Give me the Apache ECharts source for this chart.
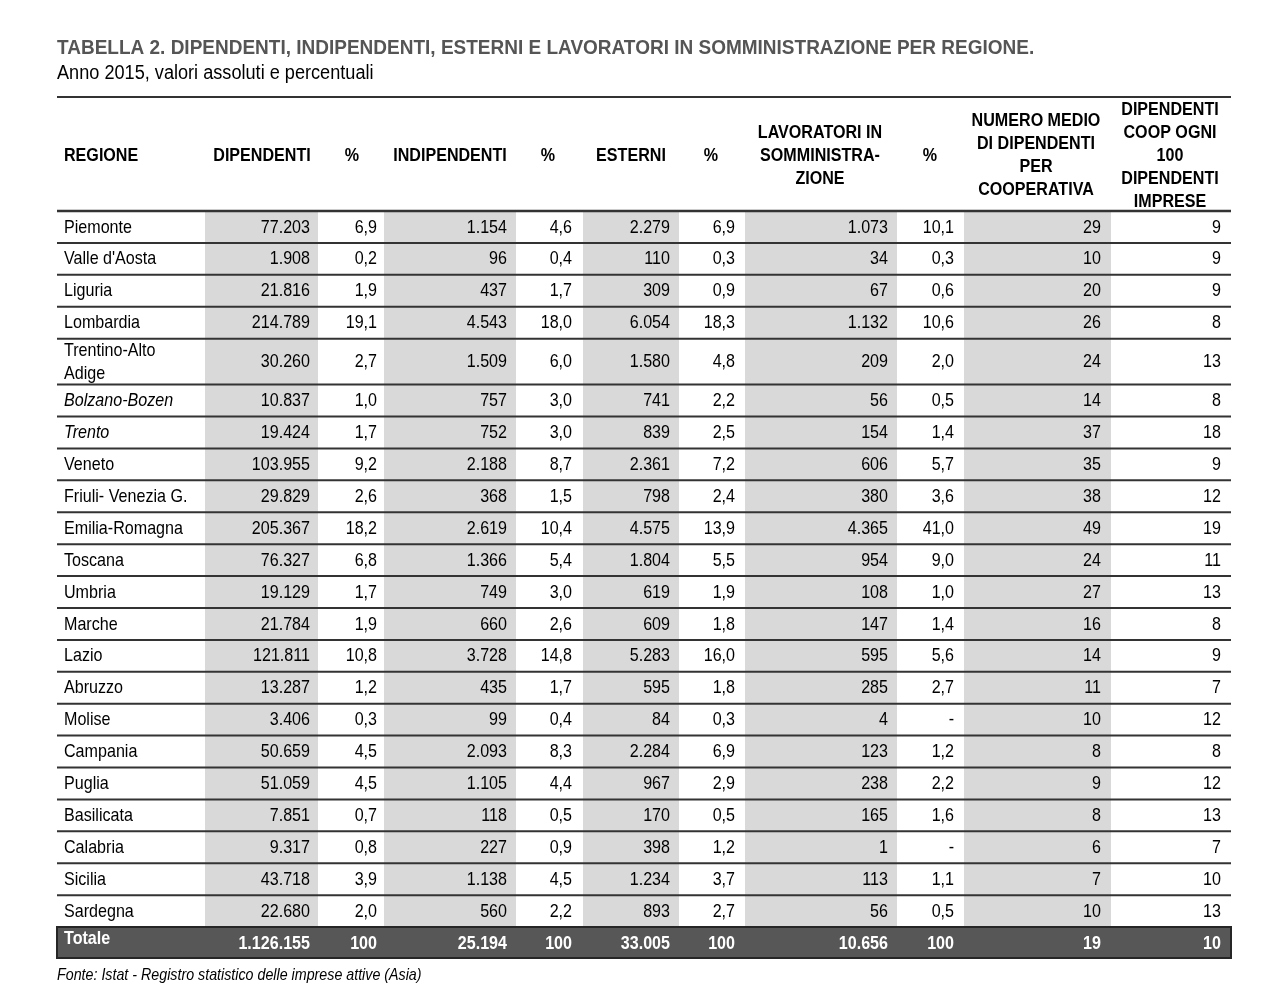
<!DOCTYPE html>
<html>
<head>
<meta charset="utf-8">
<script src="https://cdn.jsdelivr.net/npm/echarts@6/dist/echarts.min.js"></script>
<style>
  html, body { margin: 0; background: #fff; }
  #tabella { width: 1280px; height: 1005px; }
</style>
</head>
<body>
<div id="tabella"></div>
<script>
// dati tabella 2 - anno 2015
var regioni = ['Piemonte', "Valle d'Aosta", 'Liguria', 'Lombardia', 'Trentino-Alto\nAdige', 'Bolzano-Bozen', 'Trento',
  'Veneto', 'Friuli- Venezia G.', 'Emilia-Romagna', 'Toscana', 'Umbria', 'Marche', 'Lazio', 'Abruzzo', 'Molise',
  'Campania', 'Puglia', 'Basilicata', 'Calabria', 'Sicilia', 'Sardegna'];
var dipendenti = [77203, 1908, 21816, 214789, 30260, 10837, 19424, 103955, 29829, 205367, 76327, 19129, 21784, 121811, 13287, 3406, 50659, 51059, 7851, 9317, 43718, 22680];
var dipendentiPct = [6.9, 0.2, 1.9, 19.1, 2.7, 1.0, 1.7, 9.2, 2.6, 18.2, 6.8, 1.7, 1.9, 10.8, 1.2, 0.3, 4.5, 4.5, 0.7, 0.8, 3.9, 2.0];
var indipendenti = [1154, 96, 437, 4543, 1509, 757, 752, 2188, 368, 2619, 1366, 749, 660, 3728, 435, 99, 2093, 1105, 118, 227, 1138, 560];
var indipendentiPct = [4.6, 0.4, 1.7, 18.0, 6.0, 3.0, 3.0, 8.7, 1.5, 10.4, 5.4, 3.0, 2.6, 14.8, 1.7, 0.4, 8.3, 4.4, 0.5, 0.9, 4.5, 2.2];
var esterni = [2279, 110, 309, 6054, 1580, 741, 839, 2361, 798, 4575, 1804, 619, 609, 5283, 595, 84, 2284, 967, 170, 398, 1234, 893];
var esterniPct = [6.9, 0.3, 0.9, 18.3, 4.8, 2.2, 2.5, 7.2, 2.4, 13.9, 5.5, 1.9, 1.8, 16.0, 1.8, 0.3, 6.9, 2.9, 0.5, 1.2, 3.7, 2.7];
var somministrazione = [1073, 34, 67, 1132, 209, 56, 154, 606, 380, 4365, 954, 108, 147, 595, 285, 4, 123, 238, 165, 1, 113, 56];
var somministrazionePct = [10.1, 0.3, 0.6, 10.6, 2.0, 0.5, 1.4, 5.7, 3.6, 41.0, 9.0, 1.0, 1.4, 5.6, 2.7, null, 1.2, 2.2, 1.6, null, 1.1, 0.5];
var mediaPerCoop = [29, 10, 20, 26, 24, 14, 37, 35, 38, 49, 24, 27, 16, 14, 11, 10, 8, 9, 8, 6, 7, 10];
var coopOgni100 = [9, 9, 9, 8, 13, 8, 18, 9, 12, 19, 11, 13, 8, 9, 7, 12, 8, 12, 13, 7, 10, 13];
var totale = [1126155, 100, 25194, 100, 33005, 100, 10656, 100, 19, 10];
var intestazioni = ['REGIONE', 'DIPENDENTI', '%', 'INDIPENDENTI', '%', 'ESTERNI', '%',
  'LAVORATORI IN\nSOMMINISTRA-\nZIONE', '%', 'NUMERO MEDIO\nDI DIPENDENTI\nPER\nCOOPERATIVA',
  'DIPENDENTI\nCOOP OGNI\n100\nDIPENDENTI\nIMPRESE'];
var righeCorsivo = ['Bolzano-Bozen', 'Trento'];

// impaginazione
var FONT = '"Liberation Sans", Arial, sans-serif';
var SX = 0.87; // il font del pdf e' condensato
var colDestra = [64, 310, 377, 507, 572, 670, 735, 888, 954, 1101, 1221];
var colCentroTitolo = [64, 262, 352, 450, 548, 631, 711, 820, 930, 1036, 1170];
var fasceGrigie = [[205, 318], [384, 516], [583, 679], [745, 897], [964, 1111]];
var xSinistra = 57, xDestra = 1231;
var altezzaTitoli = 3.574, altezzaRiga = 1, altezzaTrentino = 1.44, altezzaTotale = 0.97;

function fmtNum(n) {
  return String(n).replace(/\B(?=(\d{3})+(?!\d))/g, '.');
}
function fmtPct(v) {
  if (v == null) return '-';
  return v.toFixed(1).replace('.', ',');
}

// posizioni verticali delle righe
var y = 0;
var datiTitoli = [[0, altezzaTitoli]];
y = altezzaTitoli;
var datiRighe = [];
for (var i = 0; i < regioni.length; i++) {
  var h = i === 4 ? altezzaTrentino : altezzaRiga;
  datiRighe.push([y, y + h, i]);
  y += h;
}
var datiTotale = [[y, y + altezzaTotale]];
var yMax = y + altezzaTotale;

function testo(x, yy, t, opt) {
  opt = opt || {};
  return {
    type: 'text',
    x: x,
    y: yy,
    scaleX: SX,
    z2: 20,
    style: {
      text: t,
      fill: opt.fill || '#000',
      font: (opt.style || 'normal') + ' ' + (opt.weight || 'normal') + ' ' + (opt.size || 18.5) + 'px ' + FONT,
      align: opt.align || 'right',
      verticalAlign: 'middle',
      lineHeight: 23
    }
  };
}
function linea(api, yy, w) {
  var x0 = api.coord([xSinistra, 0])[0], x1 = api.coord([xDestra, 0])[0];
  return {
    type: 'line',
    z2: 30,
    shape: { x1: x0, y1: yy, x2: x1, y2: yy },
    style: { stroke: '#333', lineWidth: w || 2 }
  };
}

function renderTitoli(params, api) {
  var top = api.coord([0, api.value(0)])[1];
  var bot = api.coord([0, api.value(1)])[1];
  var mid = (top + bot) / 2 + 1.5;
  var children = [linea(api, top, 2), linea(api, bot, 2.5)];
  intestazioni.forEach(function (t, k) {
    var x = api.coord([colCentroTitolo[k], 0])[0];
    children.push(testo(x, mid, t, { align: k === 0 ? 'left' : 'center', weight: 'bold' }));
  });
  return { type: 'group', children: children };
}

function renderRiga(params, api) {
  var i = api.value(2);
  var top = api.coord([0, api.value(0)])[1];
  var bot = api.coord([0, api.value(1)])[1];
  var mid = (top + bot) / 2 + 0.5;
  var children = [];
  fasceGrigie.forEach(function (f) {
    var x0 = api.coord([f[0], 0])[0], x1 = api.coord([f[1], 0])[0];
    children.push({ type: 'rect', shape: { x: x0, y: top, width: x1 - x0, height: bot - top }, style: { fill: '#d9d9d9' } });
  });
  var celle = [
    fmtNum(dipendenti[i]), fmtPct(dipendentiPct[i]),
    fmtNum(indipendenti[i]), fmtPct(indipendentiPct[i]),
    fmtNum(esterni[i]), fmtPct(esterniPct[i]),
    fmtNum(somministrazione[i]), fmtPct(somministrazionePct[i]),
    fmtNum(mediaPerCoop[i]), fmtNum(coopOgni100[i])
  ];
  var corsivo = righeCorsivo.indexOf(regioni[i]) >= 0;
  children.push(testo(api.coord([colDestra[0], 0])[0], mid, regioni[i], { align: 'left', style: corsivo ? 'italic' : 'normal' }));
  celle.forEach(function (t, k) {
    children.push(testo(api.coord([colDestra[k + 1], 0])[0], mid, t));
  });
  if (i < regioni.length - 1) children.push(linea(api, bot, 2));
  return { type: 'group', children: children };
}

function renderTotale(params, api) {
  var top = api.coord([0, api.value(0)])[1];
  var bot = api.coord([0, api.value(1)])[1];
  var mid = (top + bot) / 2 + 1;
  var x0 = api.coord([xSinistra, 0])[0], x1 = api.coord([xDestra, 0])[0];
  var children = [{
    type: 'rect',
    z2: 5,
    shape: { x: x0, y: top, width: x1 - x0, height: bot - top },
    style: { fill: '#575757', stroke: '#262626', lineWidth: 2 }
  }];
  children.push(testo(api.coord([colDestra[0], 0])[0], mid - 5, 'Totale', { align: 'left', weight: 'bold', fill: '#fff' }));
  totale.forEach(function (v, k) {
    children.push(testo(api.coord([colDestra[k + 1], 0])[0], mid, fmtNum(v), { weight: 'bold', fill: '#fff' }));
  });
  return { type: 'group', children: children };
}

var myChart = echarts.init(document.getElementById('tabella'));
var option = {
  animation: false,
  graphic: [
    { type: 'text', x: 57, y: 48, scaleX: 0.95, style: { text: 'TABELLA 2. DIPENDENTI, INDIPENDENTI, ESTERNI E LAVORATORI IN SOMMINISTRAZIONE PER REGIONE.', font: 'bold 20px ' + FONT, fill: '#555', verticalAlign: 'middle' } },
    { type: 'text', x: 57, y: 74, scaleX: 0.93, style: { text: 'Anno 2015, valori assoluti e percentuali', font: '19.5px ' + FONT, fill: '#000', verticalAlign: 'middle' } },
    { type: 'text', x: 57, y: 975, scaleX: SX, style: { text: 'Fonte: Istat - Registro statistico delle imprese attive (Asia)', font: 'italic 16.4px ' + FONT, fill: '#000', verticalAlign: 'middle' } }
  ],
  grid: { left: 0, right: 0, top: 97, bottom: 1005 - 958 },
  xAxis: { type: 'value', min: 0, max: 1280, show: false },
  yAxis: { type: 'value', min: 0, max: yMax, inverse: true, show: false },
  series: [
    { type: 'custom', name: 'intestazioni', renderItem: renderTitoli, data: datiTitoli, silent: true },
    { type: 'custom', name: 'regioni', renderItem: renderRiga, data: datiRighe, silent: true },
    { type: 'custom', name: 'totale', renderItem: renderTotale, data: datiTotale, silent: true }
  ]
};
myChart.setOption(option);
window.onresize = myChart.resize;
</script>
</body>
</html>
